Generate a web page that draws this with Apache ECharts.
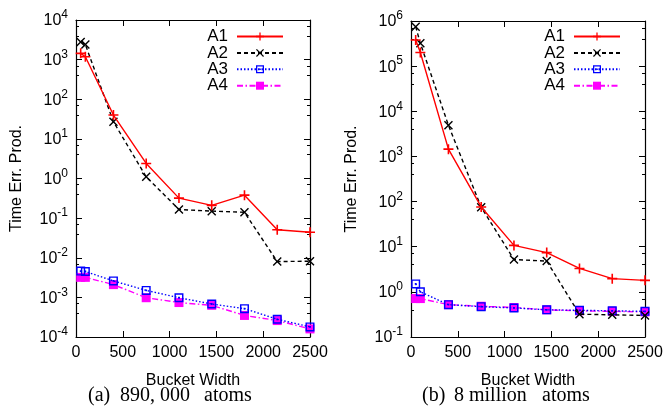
<!DOCTYPE html>
<html>
<head>
<meta charset="utf-8">
<script src="https://cdn.jsdelivr.net/npm/echarts@6/dist/echarts.min.js"></script>
<style>
  html, body { margin: 0; padding: 0; background: #fff; }
  #chart { width: 668px; height: 409px; }
</style>
</head>
<body>
<div id="chart"></div>
<script>
// bucket widths (same for both panels)
const widths = [50, 100, 400, 750, 1100, 1450, 1800, 2150, 2500]
const xTicks = [0, 500, 1000, 1500, 2000, 2500]

// (a) 890,000 atoms
const smallA1 = [1440, 1180, 40, 2.4, 0.32, 0.21, 0.38, 0.051, 0.044]
const smallA2 = [2800, 2400, 27, 1.1, 0.165, 0.15, 0.14, 0.008, 0.0082]
const smallA3 = [0.0046, 0.0045, 0.0026, 0.0015, 0.00098, 0.00068, 0.00052, 0.00028, 0.00018]
const smallA4 = [0.0032, 0.0032, 0.0021, 0.00098, 0.00074, 0.00063, 0.00035, 0.00026, 0.00016]

// (b) 8 million atoms
const bigA1 = [380000, 200000, 1450, 76, 10.7, 7.4, 3.3, 1.96, 1.8]
const bigA2 = [750000, 320000, 4900, 75, 5.2, 4.8, 0.32, 0.31, 0.3]
const bigA3 = [1.5, 1.0, 0.52, 0.47, 0.44, 0.40, 0.39, 0.38, 0.37]
const bigA4 = [0.71, 0.71, 0.52, 0.48, 0.45, 0.40, 0.38, 0.37, 0.36]

const names = ['A1', 'A2', 'A3', 'A4']

const plus = 'path://M4.2,0H5.8V4.2H10V5.8H5.8V10H4.2V5.8H0V4.2H4.2Z'
const cross = 'path://M1.1,0L5,3.9L8.9,0L10,1.1L6.1,5L10,8.9L8.9,10L5,6.1L1.1,10L0,8.9L3.9,5L0,1.1Z'
const boxDot = 'path://M0,0H10V10H0Z M1.6,1.6V8.4H8.4V1.6Z M4,4H6V6H4Z'

const styles = [
  { color: '#ff0000', type: 'solid', symbol: plus, size: 10 },
  { color: '#000000', type: [4, 3], symbol: cross, size: 9 },
  { color: '#0000ff', type: [1.5, 2], symbol: boxDot, size: 9 },
  { color: '#ff00ff', type: [6, 2.5, 1.5, 2.5], symbol: 'rect', size: 9 }
]

const font = 'Liberation Sans'
const serif = 'Liberation Serif'

function pairs(ys) {
  return ys.map((y, i) => [widths[i], y])
}

function expLabel(v) {
  const e = Math.round(Math.log10(v))
  return '{b|10}{s|' + e + '}'
}

function xAxisFor(gi, top) {
  return {
    gridIndex: gi,
    type: 'value',
    position: top ? 'top' : 'bottom',
    min: xTicks[0],
    max: xTicks[xTicks.length - 1],
    interval: xTicks[1] - xTicks[0],
    name: top ? '' : 'Bucket Width',
    nameLocation: 'middle',
    nameGap: 36,
    nameTextStyle: { fontFamily: font, fontSize: 16, color: '#000' },
    axisLine: { show: true, onZero: false, lineStyle: { color: '#000', width: 1.2 } },
    axisTick: { show: true, inside: true, length: 6, lineStyle: { color: '#000' } },
    axisLabel: {
      show: !top,
      formatter: v => String(v),
      fontFamily: font,
      fontSize: 16,
      color: '#000',
      margin: 8,
      showMaxLabel: true
    },
    splitLine: { show: false }
  }
}

function yAxisFor(gi, right, min, max) {
  return {
    gridIndex: gi,
    type: 'log',
    logBase: 10,
    position: right ? 'right' : 'left',
    min: min,
    max: max,
    interval: 1,
    name: right ? '' : 'Time Err. Prod.',
    nameLocation: 'middle',
    nameGap: 51,
    nameTextStyle: { fontFamily: font, fontSize: 16, color: '#000' },
    axisLine: { show: true, onZero: false, lineStyle: { color: '#000', width: 1.2 } },
    axisTick: { show: true, inside: true, length: 6, lineStyle: { color: '#000' } },
    minorTick: { show: true, splitNumber: 3, length: 3, lineStyle: { color: '#000' } },
    axisLabel: {
      show: !right,
      formatter: expLabel,
      margin: 8,
      rich: {
        b: { fontFamily: font, fontSize: 16, color: '#000', verticalAlign: 'bottom', lineHeight: 18 },
        s: { fontFamily: font, fontSize: 12, color: '#000', verticalAlign: 'bottom', lineHeight: 18, padding: [0, 0, 8, 0] }
      }
    },
    splitLine: { show: false }
  }
}

function seriesFor(gi, lists) {
  return lists.map((ys, i) => ({
    name: names[i],
    type: 'line',
    xAxisIndex: gi * 2,
    yAxisIndex: gi * 2,
    data: pairs(ys),
    symbol: styles[i].symbol,
    symbolSize: styles[i].size,
    showAllSymbol: true,
    lineStyle: { color: styles[i].color, width: 1.4, type: styles[i].type },
    itemStyle: { color: styles[i].color },
    emphasis: { disabled: true },
    animation: false,
    z: 10 - i
  }))
}

function legendFor(right) {
  return {
    data: names,
    orient: 'vertical',
    align: 'right',
    right: right,
    top: 23,
    itemWidth: 46,
    itemHeight: 10,
    itemGap: -0.6,
    textStyle: { fontFamily: font, fontSize: 17, lineHeight: 16, color: '#000', padding: [0, 4, 0, 0] },
    selectedMode: false
  }
}

function caption(text, left) {
  return {
    type: 'text', left: left, top: 386,
    style: { text: text, fontFamily: serif, fontSize: 20, fill: '#000' }
  }
}

const chart = echarts.init(document.getElementById('chart'))
chart.setOption({
  backgroundColor: '#fff',
  animation: false,
  grid: [
    { left: 76, top: 20, width: 234, height: 317 },
    { left: 411, top: 21, width: 234, height: 316 }
  ],
  xAxis: [
    xAxisFor(0, false), xAxisFor(0, true),
    xAxisFor(1, false), xAxisFor(1, true)
  ],
  yAxis: [
    yAxisFor(0, false, 1e-4, 1e4), yAxisFor(0, true, 1e-4, 1e4),
    yAxisFor(1, false, 0.1, 1e6), yAxisFor(1, true, 0.1, 1e6)
  ],
  legend: [legendFor(379), legendFor(42)],
  series: seriesFor(0, [smallA1, smallA2, smallA3, smallA4])
    .concat(seriesFor(1, [bigA1, bigA2, bigA3, bigA4])),
  graphic: [
    caption('(a)', 88), caption('890, 000', 120), caption('atoms', 204),
    caption('(b)', 422), caption('8', 454), caption('million', 469), caption('atoms', 542)
  ]
})
</script>
</body>
</html>
